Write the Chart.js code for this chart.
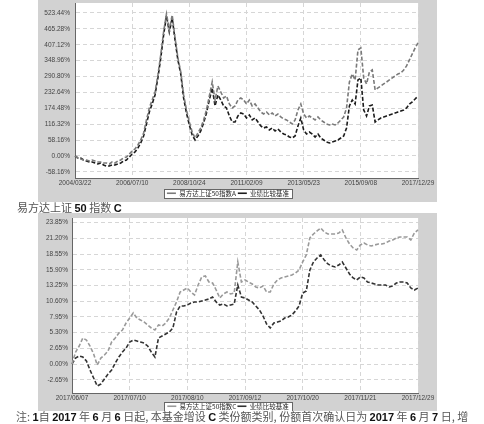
<!DOCTYPE html>
<html>
<head>
<meta charset="utf-8">
<script src="https://cdn.jsdelivr.net/npm/chart.js@4.4.1/dist/chart.umd.min.js"></script>
<style>
  html, body { margin: 0; padding: 0; background: #fff; }
  body { width: 484px; height: 424px; position: relative; overflow: hidden; }
  canvas { position: absolute; background: #d2d2d2; }
  #chartA { left: 38px; top: 0px; }
  #chartC { left: 38px; top: 213px; }
  .txt { position: absolute; left: 17px; font-family: "Noto Sans CJK SC", sans-serif; font-size: 11px; line-height: 11px; color: #555; white-space: nowrap; }
  .txt b { font-family: "Liberation Sans", Arial, sans-serif; color: #111; }
  #capC { top: 202px; }
  #note { top: 411px; left: 16px; }
</style>
</head>
<body>
<canvas id="chartA" width="399" height="202"></canvas>
<div class="txt" id="capC">易方达上证 <b>50</b> 指数 <b>C</b></div>
<canvas id="chartC" width="399" height="198"></canvas>
<div class="txt" id="note">注: <b>1</b>自 <b>2017</b> 年 <b>6</b> 月 <b>6</b> 日起, 本基金增设 <b>C</b> 类份额类别, 份额首次确认日为 <b>2017</b> 年 <b>6</b> 月 <b>7</b> 日, 增</div>
<script>
// top panel: class A since inception, cumulative growth (%)
var xTicksA = ['2004/03/22','2006/07/10','2008/10/24','2011/02/09','2013/05/23','2015/09/08','2017/12/29']
var yTicksA = [-58.16,0,58.16,116.32,174.48,232.64,290.80,348.96,407.12,465.28,523.44]
var fundA = [0,-7.3,-11.0,-14.6,-14.6,-18.3,-14.6,-18.3,-22.0,-22.0,
  -25.6,-25.6,-29.3,-22.0,-25.6,-18.3,-14.6,-7.3,-3.7,7.3,
  18.3,25.6,40.3,58.6,84.2,131.8,175.7,205.0,234.2,296.5,
  369.7,453.8,519.7,461.2,516.1,431.9,358.7,307.4,223.3,168.4,
  124.4,87.8,65.9,84.2,102.5,131.8,168.4,219.6,270.8,205.0,
  256.2,234.2,212.3,219.6,190.3,175.7,183.0,205.0,212.3,205.0,
  190.3,205.0,183.0,190.3,175.7,161.0,153.7,161.0,150.1,157.4,
  146.4,153.7,142.7,135.4,131.8,124.4,117.1,131.8,168.4,190.3,
  153.7,139.1,146.4,139.1,131.8,142.7,131.8,124.4,117.1,113.5,
  117.1,113.5,120.8,131.8,142.7,175.7,270.8,300.1,278.2,388.0,
  395.3,285.5,263.5,307.4,314.8,241.6,248.9,256.2,263.5,270.8,
  278.2,285.5,292.8,300.1,303.8,314.8,329.4,351.4,373.3,395.3,
  413.6]
var benchA = [0,-7.3,-7.3,-14.6,-18.3,-22.0,-22.0,-25.6,-29.3,-25.6,
  -32.9,-36.6,-36.6,-32.9,-32.9,-29.3,-25.6,-18.3,-14.6,-3.7,
  7.3,14.6,29.3,47.6,73.2,117.1,161.0,190.3,223.3,285.5,
  358.7,442.9,512.4,453.8,505.1,424.6,351.4,300.1,212.3,157.4,
  113.5,76.9,58.6,73.2,91.5,120.8,157.4,205.0,248.9,183.0,
  223.3,205.0,183.0,175.7,146.4,124.4,124.4,146.4,157.4,153.7,
  139.1,150.1,131.8,139.1,124.4,109.8,102.5,106.1,95.2,102.5,
  91.5,98.8,87.8,80.5,76.9,69.5,65.9,73.2,109.8,139.1,
  95.2,80.5,87.8,80.5,69.5,80.5,65.9,58.6,51.2,47.6,
  51.2,54.9,58.6,65.9,73.2,102.5,183.0,205.0,190.3,278.2,
  285.5,168.4,146.4,183.0,186.7,124.4,131.8,139.1,142.7,146.4,
  150.1,153.7,157.4,161.0,164.7,168.4,175.7,190.3,197.6,208.6,
  219.6]
var namesA = ['易方达上证50指数A','业绩比较基准']

// bottom panel: class C since 2017/06/07
var xTicksC = ['2017/06/07','2017/07/10','2017/08/10','2017/09/12','2017/10/20','2017/11/21','2017/12/29']
var yTicksC = [-2.65,0,2.65,5.30,7.95,10.60,13.25,15.90,18.55,21.20,23.85]
var fundC = [0.00,2.03,3.04,4.39,4.05,3.04,1.69,-0.17,1.01,1.52,
  2.19,3.71,4.39,5.23,5.74,6.92,7.76,8.61,7.76,7.43,
  7.09,6.58,6.08,5.74,6.58,6.41,6.92,7.76,9.12,10.47,
  12.15,12.49,12.83,12.15,11.65,13.34,14.69,14.85,13.84,13.67,
  12.49,11.14,11.82,12.15,11.82,11.98,17.22,13.84,14.18,13.84,
  13.50,13.00,12.83,13.17,12.15,12.15,13.50,14.18,14.52,14.69,
  14.85,15.02,15.36,15.87,17.22,18.40,21.27,21.94,22.45,22.96,
  22.28,21.94,21.94,21.94,22.11,22.62,21.27,20.26,19.58,19.24,
  20.09,20.42,20.09,19.92,20.09,20.26,20.26,20.42,20.76,20.93,
  21.27,21.44,21.44,21.44,20.93,22.11,22.62]
var benchC = [0.00,1.01,1.35,1.18,0.51,-1.01,-2.36,-3.71,-3.38,-2.53,
  -1.69,-1.01,0.17,1.18,2.03,2.70,3.71,4.05,3.88,3.71,
  3.54,3.04,2.03,1.18,4.39,4.73,5.06,5.40,6.08,8.78,
  9.79,9.79,9.96,10.30,10.47,10.47,10.63,10.80,10.97,11.31,
  10.47,9.96,10.13,9.79,9.96,10.13,13.34,11.31,11.14,10.80,
  10.47,9.79,9.12,8.10,6.75,6.08,6.92,7.09,7.26,7.76,
  7.93,8.27,8.95,9.79,11.98,12.32,15.87,17.22,17.89,18.40,
  17.56,16.88,16.54,16.37,16.71,17.22,16.20,15.19,14.52,14.18,
  14.69,14.52,13.84,13.67,13.50,13.34,13.34,13.34,13.00,13.17,
  13.67,13.84,13.84,13.67,12.83,12.49,12.83]
var namesC = ['易方达上证50指数C','业绩比较基准']

// white plot area and boxed legend on the grey panel
var panelPlugin = {
  id: 'panel',
  beforeDraw: function(chart){
    var ctx = chart.ctx
    var a = chart.chartArea
    ctx.save()
    ctx.fillStyle = '#ffffff'
    ctx.fillRect(a.left, a.top, a.right - a.left, a.bottom - a.top)
    var boxes = chart.legend && chart.legend.legendHitBoxes
    if(boxes && boxes.length){
      var last = boxes[boxes.length - 1]
      var l = Math.round(boxes[0].left - 3)
      var r = Math.round(last.left + last.width + 3)
      var t = Math.round(boxes[0].top - 1)
      var b = Math.round(boxes[0].top + boxes[0].height + 1)
      ctx.fillRect(l, t, r - l, b - t)
      ctx.strokeStyle = '#666'
      ctx.lineWidth = 1
      ctx.strokeRect(l + 0.5, t + 0.5, r - l, b - t)
    }
    ctx.restore()
  }
}

var tickFont = {family: 'Liberation Sans', size: 6.5}

var noPadding = function(s){
  s.paddingTop = 0
  s.paddingBottom = 0
  s.paddingLeft = 0
  s.paddingRight = 0
}

var drawPanel = function(canvasId, values, names, colors, xTicks, yTicks, yMin, yMax, box){
  var step = (values[0].length - 1) / (xTicks.length - 1)
  var labels = values[0].map(function(v, i){ return i })
  return new Chart(document.getElementById(canvasId), {
    type: 'line',
    data: {
      labels: labels,
      datasets: values.map(function(s, i){
        return {
          label: names[i],
          data: s,
          borderColor: colors[i],
          backgroundColor: colors[i],
          borderWidth: 1.6,
          borderDash: [4, 2],
          pointRadius: 0,
          tension: 0
        }
      })
    },
    options: {
      responsive: false,
      animation: false,
      layout: {padding: {top: box.top, right: 19, bottom: box.bottom, left: 0}},
      plugins: {
        tooltip: {enabled: false},
        legend: {
          position: 'bottom',
          maxHeight: box.legend,
          labels: {
            usePointStyle: true,
            pointStyle: 'line',
            pointStyleWidth: 9,
            boxHeight: 6,
            padding: box.lpad,
            color: '#222',
            font: {family: 'Noto Sans CJK SC', size: 6.5}
          }
        }
      },
      scales: {
        x: {
          grid: {color: '#d6d6d6', drawTicks: false},
          border: {color: '#666', dash: [4, 3]},
          ticks: {
            autoSkip: false,
            maxRotation: 0,
            padding: 1,
            color: '#444',
            font: tickFont,
            callback: function(v, i){ return i % step === 0 ? xTicks[i / step] : null }
          },
          afterFit: function(s){
            s.height = box.xh
            noPadding(s)
          }
        },
        y: {
          min: yMin,
          max: yMax,
          grid: {color: '#d6d6d6', drawTicks: false},
          border: {color: '#666', dash: [4, 3]},
          afterBuildTicks: function(s){
            s.ticks = yTicks.map(function(v){ return {value: v} })
          },
          ticks: {
            padding: box.ypad,
            color: '#444',
            font: tickFont,
            callback: function(v){ return v.toFixed(2) + '%' }
          },
          afterFit: function(s){
            s.width = box.yw
            noPadding(s)
          }
        }
      }
    },
    plugins: [panelPlugin]
  })
}

drawPanel('chartA', [fundA, benchA], namesA, ['#7a7a7a', '#1c1c1c'], xTicksA, yTicksA, -80.5, 559.7,
  {top: 3, bottom: 3, legend: 11, lpad: 2, xh: 10, yw: 37, ypad: 5})
drawPanel('chartC', [fundC, benchC], namesC, ['#9a9a9a', '#333333'], xTicksC, yTicksC, -4.89, 24.64,
  {top: 5, bottom: 0, legend: 9, lpad: 1, xh: 9, yw: 34, ypad: 4})
</script>
</body>
</html>
